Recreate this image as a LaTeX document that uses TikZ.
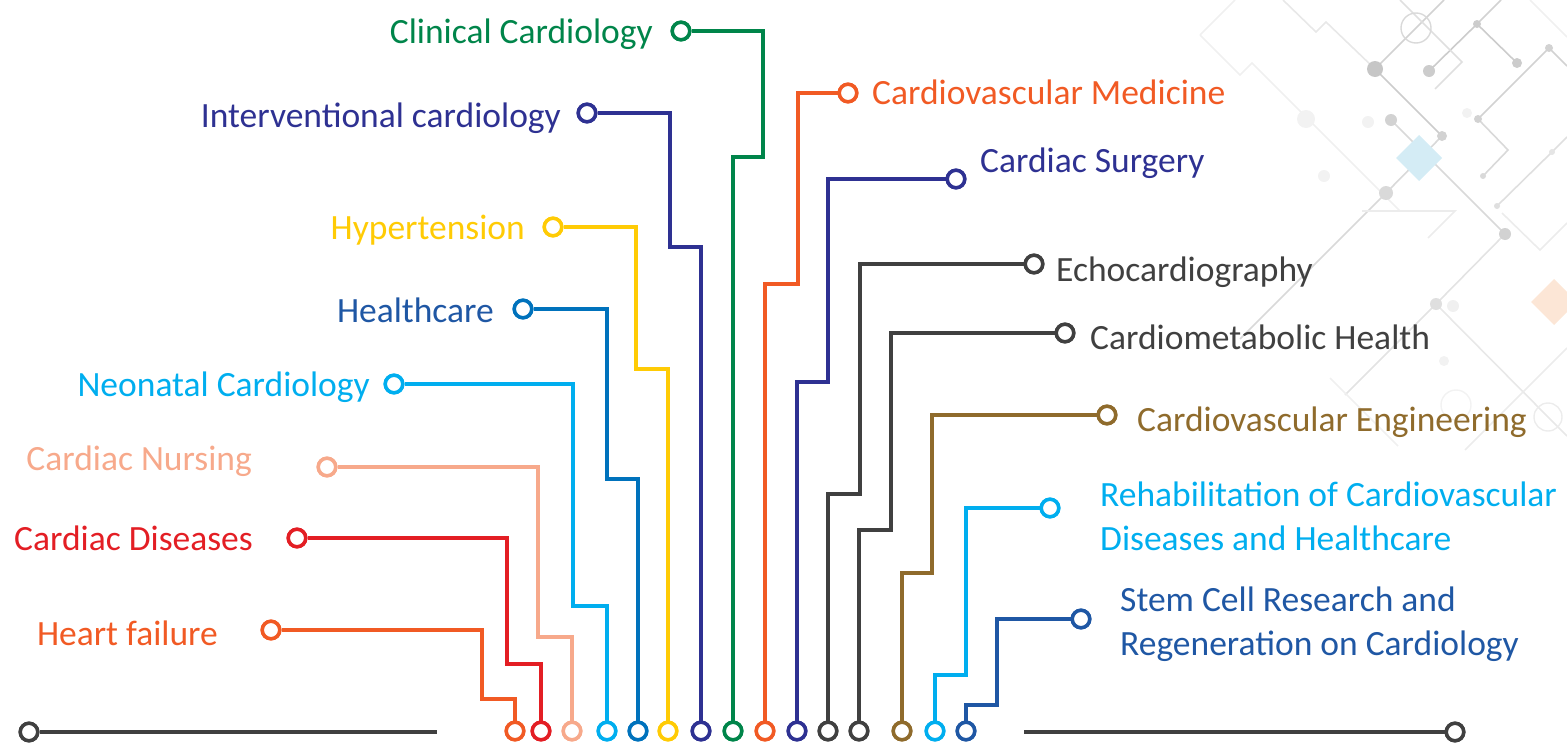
\documentclass[tikz,border=0pt]{standalone}
\usepackage{fontspec}
\setmainfont{Carlito}
\definecolor{cOrange}{HTML}{F15A24}
\definecolor{cRed}{HTML}{E31E24}
\definecolor{cSalmon}{HTML}{F7A98B}
\definecolor{cSky}{HTML}{00AEEF}
\definecolor{cBlue}{HTML}{0072BC}
\definecolor{cYellow}{HTML}{FFCB05}
\definecolor{cIndigo}{HTML}{2E3192}
\definecolor{cGreen}{HTML}{00854A}
\definecolor{cGray}{HTML}{404040}
\definecolor{cBrown}{HTML}{8F6B2C}
\definecolor{cNavy}{HTML}{1F57A4}
\definecolor{cDiaBlue}{HTML}{D4ECF5}
\definecolor{cDiaPeach}{HTML}{FCE6D6}
\tikzset{
  pin/.style={circle, draw=#1, fill=white, line width=3.5pt, minimum size=17.5pt, inner sep=0pt},
  wire/.style={draw=#1, line width=3.8pt},
  lbl/.style={text=#1, inner sep=0pt, font=\fontsize{35.5}{44}\selectfont},
  deco/.style={draw=gray!#1, line width=1.6pt},
  decodot/.style={fill=gray!#1, draw=none},
}
\begin{document}
\begin{tikzpicture}[x=1pt,y=-1pt]
\useasboundingbox (0,0) rectangle (1567,742);
% ---- faint background decoration (top right)
\begin{scope}
  \draw[deco=12] (1200,35) -- (1235,0);
  \draw[deco=12] (1200,35) -- (1240,75) -- (1252,63) -- (1400,211);
  \draw[deco=18] (1283,0) -- (1316,32) -- (1326,22) -- (1375,69);
  \draw[deco=40] (1375,69) -- (1442,136);
  \draw[deco=35] (1375,69) -- (1444,0);
  \draw[deco=30] (1442,136) -- (1386,193) -- (1300,279) -- (1240,339);
  \draw[deco=30] (1391,120) -- (1505,234);
  \draw[deco=22] (1505,234) -- (1436,304) -- (1345,395);
  \draw[deco=40] (1429,71) -- (1477,24) -- (1517,63);
  \draw[deco=35] (1477,24) -- (1501,0);
  \draw[deco=25] (1400,0) -- (1462,62) -- (1435,89);
  \draw[deco=35] (1478,119) -- (1549,48) -- (1567,66);
  \draw[deco=30] (1478,119) -- (1508,150) -- (1483,176);
  \draw[deco=25] (1497,206) -- (1552,152) -- (1567,137);
  \draw[deco=15] (1502,213) -- (1540,250) -- (1567,223);
  \draw[deco=18] (1436,304) -- (1548,417) -- (1567,436);
  \draw[deco=15] (1362,211) -- (1455,211) -- (1428,238);
  \draw[deco=12] (1330,378) -- (1398,446);
  \draw[deco=15] (1465,450) -- (1567,348);
  \draw[deco=12] (1530,0) -- (1567,37);
  \draw[deco=30, line width=1.4pt] (1416,28) circle (15);
  \draw[deco=15, line width=1.4pt] (1548,417) circle (14);
  \draw[deco=10, line width=1.4pt] (1456,405) circle (15);
  \fill[decodot=45] (1375,69) circle (8);
  \fill[decodot=40] (1429,71) circle (6);
  \fill[decodot=40] (1477,24) circle (4);
  \fill[decodot=40] (1517,63) circle (5);
  \fill[decodot=35] (1549,48) circle (4);
  \fill[decodot=35] (1391,120) circle (6);
  \fill[decodot=35] (1442,136) circle (5);
  \fill[decodot=30] (1386,193) circle (7);
  \fill[decodot=35] (1505,234) circle (6);
  \fill[decodot=35] (1478,119) circle (4);
  \fill[decodot=30] (1483,176) circle (3);
  \fill[decodot=25] (1497,206) circle (3);
  \fill[decodot=20] (1552,152) circle (3);
  \fill[decodot=25] (1436,304) circle (6);
  \fill[decodot=12] (1453,306) circle (6);
  \fill[decodot=10] (1306,119) circle (9);
  \fill[decodot=10] (1368,122) circle (6);
  \fill[decodot=10] (1324,176) circle (6);
  \fill[decodot=10] (1467,113) circle (5);
  \fill[decodot=10] (1444,361) circle (5);
  \fill[cDiaBlue] (1419,135) -- (1442,158) -- (1419,181) -- (1396,158) -- cycle;
  \fill[cDiaPeach] (1554,279) -- (1577,302) -- (1554,325) -- (1531,302) -- cycle;
\end{scope}
% ---- bottom baseline
\node[pin=cGray] (e1) at (29,732) {};
\coordinate (e1end) at (437,732);
\node[pin=cGray] (e2) at (1455,732) {};
\coordinate (e2end) at (1024,732);
\draw[wire=cGray, line width=4.2pt] (e1) -- (e1end);
\draw[wire=cGray, line width=4.2pt] (e2) -- (e2end);
% ---- bottom pins
\node[pin=cOrange] (b1) at (515,731) {};
\node[pin=cRed] (b2) at (541,731) {};
\node[pin=cSalmon] (b3) at (572,731) {};
\node[pin=cSky] (b4) at (607,731) {};
\node[pin=cBlue] (b5) at (638,731) {};
\node[pin=cYellow] (b6) at (668,731) {};
\node[pin=cIndigo] (b7) at (701,731) {};
\node[pin=cGreen] (b8) at (733,731) {};
\node[pin=cOrange] (b9) at (765,731) {};
\node[pin=cIndigo] (b10) at (797,731) {};
\node[pin=cGray] (b11) at (828,731) {};
\node[pin=cGray] (b12) at (859,731) {};
\node[pin=cBrown] (b13) at (902,731) {};
\node[pin=cSky] (b14) at (935,731) {};
\node[pin=cNavy] (b15) at (966,731) {};
% ---- label pins
\node[pin=cOrange] (h1) at (271,630) {};
\node[pin=cRed] (h2) at (297,538) {};
\node[pin=cSalmon] (h3) at (327,467) {};
\node[pin=cSky] (h4) at (394,384) {};
\node[pin=cBlue] (h5) at (523,309) {};
\node[pin=cYellow] (h6) at (553,227) {};
\node[pin=cIndigo] (h7) at (587,113) {};
\node[pin=cGreen] (h8) at (681,31) {};
\node[pin=cOrange] (h9) at (848,93) {};
\node[pin=cIndigo] (h10) at (956,179) {};
\node[pin=cGray] (h11) at (1034,264) {};
\node[pin=cGray] (h12) at (1065,333) {};
\node[pin=cBrown] (h13) at (1107,415) {};
\node[pin=cSky] (h14) at (1050,508) {};
\node[pin=cNavy] (h15) at (1081,619) {};
% ---- connectors
\draw[wire=cOrange] (h1) -- (482,630) |- (515,699) -- (b1);
\draw[wire=cRed] (h2) -- (507,538) |- (541,664) -- (b2);
\draw[wire=cSalmon] (h3) -- (538,467) |- (572,637) -- (b3);
\draw[wire=cSky] (h4) -- (573,384) |- (607,606) -- (b4);
\draw[wire=cBlue] (h5) -- (607,309) |- (638,479) -- (b5);
\draw[wire=cYellow] (h6) -- (636,227) |- (668,369) -- (b6);
\draw[wire=cIndigo] (h7) -- (670,113) |- (701,247) -- (b7);
\draw[wire=cGreen] (h8) -- (763,31) |- (733,157) -- (b8);
\draw[wire=cOrange] (h9) -- (798,93) |- (765,284) -- (b9);
\draw[wire=cIndigo] (h10) -- (828,179) |- (797,382) -- (b10);
\draw[wire=cGray] (h11) -- (860,264) |- (828,494) -- (b11);
\draw[wire=cGray] (h12) -- (891,333) |- (859,530) -- (b12);
\draw[wire=cBrown] (h13) -- (932,415) |- (902,573) -- (b13);
\draw[wire=cSky] (h14) -- (966,508) |- (935,675) -- (b14);
\draw[wire=cNavy] (h15) -- (997,619) |- (966,705) -- (b15);
% redraw pins on top
\foreach \n/\c in {b1/cOrange,b2/cRed,b3/cSalmon,b4/cSky,b5/cBlue,b6/cYellow,b7/cIndigo,b8/cGreen,b9/cOrange,b10/cIndigo,b11/cGray,b12/cGray,b13/cBrown,b14/cSky,b15/cNavy,h1/cOrange,h2/cRed,h3/cSalmon,h4/cSky,h5/cBlue,h6/cYellow,h7/cIndigo,h8/cGreen,h9/cOrange,h10/cIndigo,h11/cGray,h12/cGray,h13/cBrown,h14/cSky,h15/cNavy,e1/cGray,e2/cGray}
  \draw[\c, line width=3.5pt, fill=white] (\n) circle (8.75pt);
% ---- labels
\node[lbl=cOrange, anchor=base east] (t1) at (218,645) {Heart failure};
\node[lbl=cRed, anchor=base east] (t2) at (253,550) {Cardiac Diseases};
\node[lbl=cSalmon, anchor=base east] (t3) at (252,470) {Cardiac Nursing};
\node[lbl=cSky, anchor=base east] (t4) at (370,396) {Neonatal Cardiology};
\node[lbl=cNavy, anchor=base east] (t5) at (494,322) {Healthcare};
\node[lbl=cYellow, anchor=base east] (t6) at (525,239) {Hypertension};
\node[lbl=cIndigo, anchor=base east] (t7) at (561,127) {Interventional cardiology};
\node[lbl=cGreen, anchor=base east] (t8) at (653,43) {Clinical Cardiology};
\node[lbl=cOrange, anchor=base west] (t9) at (872,104) {Cardiovascular Medicine};
\node[lbl=cIndigo, anchor=base west] (t10) at (980,172) {Cardiac Surgery};
\node[lbl=cGray, anchor=base west] (t11) at (1056,281) {Echocardiography};
\node[lbl=cGray, anchor=base west] (t12) at (1090,349) {Cardiometabolic Health};
\node[lbl=cBrown, anchor=base west] (t13) at (1137,431) {Cardiovascular Engineering};
\node[lbl=cSky, anchor=base west, align=left] (t14) at (1100,550) {Rehabilitation of Cardiovascular\\Diseases and Healthcare};
\node[lbl=cNavy, anchor=base west, align=left] (t15) at (1120,655) {Stem Cell Research and\\Regeneration on Cardiology};
\end{tikzpicture}
\end{document}
